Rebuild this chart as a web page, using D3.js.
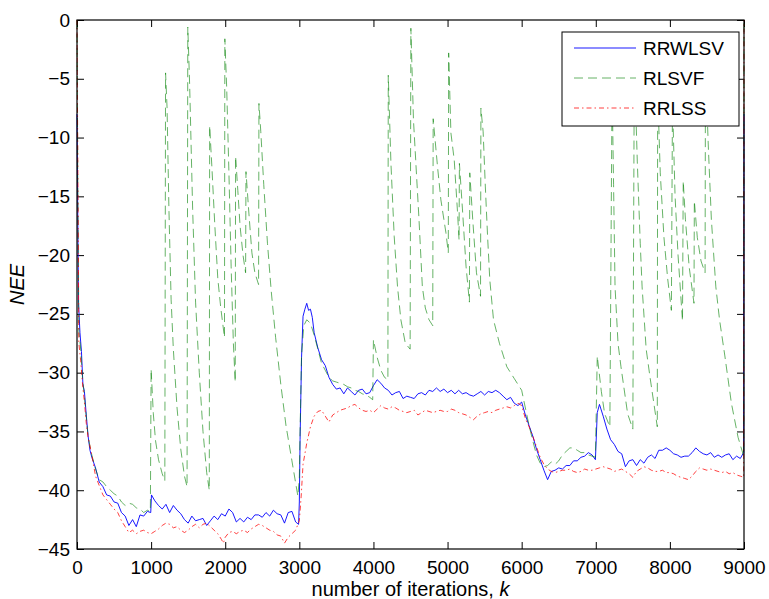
<!DOCTYPE html>
<html>
<head>
<meta charset="utf-8">
<script src="https://cdn.jsdelivr.net/npm/d3@7"></script>
<style>
  body { margin: 0; background: #fff; }
  svg text { font-family: "Liberation Sans", Arial, Helvetica, sans-serif; }
</style>
</head>
<body>
<div id="chart"></div>
<script>
// iteration k, NEE value
const rrwlsv = [[0,-8],[20,-24],[40,-26.6],[60,-28.2],[80,-31.0],[100,-31.6],[125,-33.6],[150,-35.4],[175,-36.6],[200,-37.2],[250,-38.1],[300,-39.3],[350,-39.7],[400,-40.4],[450,-40.5],[500,-41.0],[550,-41.1],[600,-41.9],[650,-42.2],[700,-43.0],[750,-42.5],[800,-43.1],[850,-42.1],[900,-42.2],[950,-41.8],[995,-41.9],[1005,-40.4],[1050,-40.9],[1100,-41.3],[1150,-41.6],[1200,-41.2],[1250,-41.9],[1300,-41.3],[1350,-41.7],[1400,-42.0],[1450,-42.5],[1500,-42.8],[1550,-42.2],[1600,-42.6],[1650,-42.5],[1700,-42.4],[1750,-43.0],[1800,-42.6],[1850,-42.2],[1900,-42.5],[1950,-42.0],[2000,-42.2],[2050,-41.6],[2100,-41.9],[2150,-42.7],[2200,-42.4],[2250,-42.7],[2300,-42.3],[2350,-42.5],[2400,-42.1],[2450,-42.1],[2500,-42.3],[2550,-41.9],[2600,-42.2],[2650,-41.7],[2700,-42.0],[2750,-42.1],[2800,-42.8],[2850,-41.9],[2900,-41.8],[2950,-42.7],[2990,-42.9],[3000,-41.0],[3010,-35.7],[3030,-28.7],[3050,-25.2],[3075,-24.6],[3100,-24.1],[3125,-24.7],[3150,-24.6],[3175,-25.3],[3200,-26.6],[3250,-27.9],[3300,-28.9],[3350,-29.4],[3400,-30.4],[3450,-31.0],[3500,-31.4],[3550,-31.3],[3600,-31.8],[3650,-31.3],[3700,-31.6],[3750,-31.9],[3800,-31.5],[3850,-31.4],[3900,-31.8],[3950,-31.7],[4000,-31.1],[4050,-30.6],[4100,-30.9],[4150,-31.3],[4200,-31.5],[4250,-31.9],[4300,-31.7],[4350,-31.6],[4400,-32.2],[4450,-32.0],[4500,-32.1],[4550,-32.2],[4600,-31.8],[4650,-31.7],[4700,-31.9],[4750,-31.5],[4800,-31.6],[4850,-31.3],[4900,-31.6],[4950,-31.4],[5000,-31.7],[5050,-31.5],[5100,-31.8],[5150,-31.5],[5200,-31.8],[5250,-31.7],[5300,-31.9],[5350,-32.0],[5400,-31.8],[5450,-31.6],[5500,-31.9],[5550,-31.6],[5600,-31.7],[5650,-31.5],[5700,-31.7],[5750,-32.0],[5800,-32.3],[5850,-32.1],[5900,-32.6],[5950,-32.8],[6000,-32.5],[6050,-33.6],[6100,-34.5],[6150,-35.4],[6200,-36.5],[6250,-37.4],[6300,-38.3],[6350,-39.1],[6400,-38.4],[6450,-38.3],[6500,-38.1],[6550,-38.2],[6600,-37.9],[6650,-37.9],[6700,-37.5],[6750,-37.5],[6800,-37.2],[6850,-37.1],[6900,-36.8],[6950,-37.0],[6995,-37.4],[7020,-33.4],[7050,-32.7],[7100,-33.7],[7150,-34.8],[7200,-35.7],[7250,-36.1],[7300,-36.7],[7350,-36.9],[7400,-38.0],[7450,-37.5],[7500,-37.4],[7550,-37.9],[7600,-37.4],[7650,-37.7],[7700,-37.2],[7750,-37.0],[7800,-37.3],[7850,-36.6],[7900,-36.6],[7950,-36.4],[8000,-36.6],[8050,-36.9],[8100,-37.0],[8150,-37.2],[8200,-37.1],[8250,-37.1],[8300,-36.8],[8350,-36.4],[8400,-36.7],[8450,-36.9],[8500,-37.0],[8550,-36.8],[8600,-37.2],[8650,-37.0],[8700,-37.2],[8750,-37.0],[8800,-36.9],[8850,-37.4],[8900,-37.1],[8950,-37.3],[8995,-36.8],[9000,-8]];

const rlsvf = [[0,0],[10,-13],[25,-26.5],[50,-28],[75,-30.5],[100,-32],[150,-35.5],[200,-37],[250,-38.2],[300,-39.1],[350,-39.3],[400,-39.7],[450,-40.0],[500,-40.3],[550,-40.5],[600,-41.0],[650,-41.3],[700,-41.1],[750,-41.2],[800,-41.5],[850,-41.6],[900,-41.9],[950,-41.7],[990,-41.8],
  [1000,-29.7],[1030,-33.5],[1060,-35.8],[1100,-37.4],[1150,-38.6],[1185,-39.2],
  [1195,-4.5],[1215,-7.4],[1240,-16],[1270,-23.8],[1300,-28],[1350,-33],[1400,-36.5],[1450,-38.8],[1485,-39.7],
  [1495,-0.6],[1520,-5.5],[1560,-16],[1600,-24],[1650,-30],[1700,-35],[1750,-38.5],[1785,-40.0],
  [1790,-9.0],[1820,-12.5],[1860,-17.5],[1900,-22.0],[1940,-24.5],[1990,-27],
  [1995,-1.6],[2020,-5.8],[2050,-13],[2080,-21],[2110,-27.5],[2135,-30.8],
  [2140,-11.6],[2170,-14.5],[2200,-17.5],[2240,-20],[2275,-21.5],
  [2280,-12.9],[2320,-16.5],[2360,-19.8],[2400,-21.5],[2450,-22.5],
  [2455,-7.1],[2480,-9.5],[2520,-14],[2570,-19],[2620,-23],[2680,-27],[2750,-31],[2820,-34.5],[2900,-37.5],[2980,-40.5],
  [3000,-39],[3010,-35],[3030,-28.5],[3060,-26],[3100,-25.5],[3150,-25.8],[3200,-26.8],[3250,-28.0],[3300,-29.2],[3350,-29.8],[3400,-30.4],[3450,-30.7],[3500,-30.8],[3550,-30.9],[3600,-31.0],[3650,-31.2],[3700,-31.3],[3750,-31.5],[3800,-31.6],[3850,-31.8],[3900,-31.9],[3950,-32.1],[3990,-32.3],
  [4000,-27.2],[4050,-28.7],[4100,-29.8],[4150,-30.4],[4195,-30.6],
  [4200,-4.7],[4236,-12.2],[4280,-18.4],[4325,-22.7],[4370,-25.5],[4430,-27.5],[4495,-28.0],
  [4505,-0.7],[4540,-8.5],[4570,-11.9],[4615,-17],[4660,-22.7],[4700,-24.5],[4750,-25.5],[4800,-26],
  [4806,-8.4],[4865,-12.5],[4910,-15.3],[4978,-18.1],[5010,-19.8],
  [5015,-2.8],[5045,-9.6],[5090,-11.9],[5135,-16.4],[5155,-18.7],
  [5160,-12.2],[5200,-16],[5250,-21],[5295,-24],
  [5300,-13.0],[5340,-17],[5390,-21.5],[5445,-23.5],
  [5450,-7.5],[5480,-9.5],[5510,-14.2],[5540,-18.4],[5570,-22.1],[5620,-25.5],[5700,-27.5],[5800,-29.5],[5900,-30.5],[6000,-31.5],[6050,-33],[6100,-34.5],[6150,-35.8],[6200,-37],[6250,-37.7],[6300,-38.0],[6350,-37.9],[6400,-37.6],[6450,-37.8],[6500,-37.5],[6550,-37.0],[6600,-36.7],[6650,-36.4],[6700,-36.4],[6750,-36.6],[6800,-36.8],[6850,-36.8],[6900,-37.0],[6950,-37.1],[6995,-37.2],
  [7020,-28.6],[7075,-31.6],[7120,-33.5],[7190,-34.6],
  [7220,-5.5],[7240,-14],[7260,-22.7],[7300,-27.5],[7340,-29.5],[7430,-33.5],[7500,-34.8],
  [7520,-3.5],[7560,-12],[7600,-19],[7625,-22.7],[7680,-28],[7730,-30.3],[7830,-34.6],
  [7835,-6],[7870,-13],[7920,-18.5],[7970,-22],[8020,-24.7],
  [8035,-7],[8070,-15],[8110,-20],[8170,-25.6],
  [8180,-13.7],[8210,-17],[8260,-21],[8325,-24.1],
  [8330,-15.4],[8370,-18.5],[8420,-20.5],[8475,-21.5],
  [8480,-4],[8520,-11],[8560,-17],[8620,-22.7],[8670,-25.5],[8740,-28.5],[8830,-32.6],[8920,-35.5],[8995,-37.1],[9000,0]];

const rrlss = [[0,0],[25,-27.5],[50,-29],[75,-31],[100,-32.5],[125,-34.3],[150,-35.5],[200,-37.0],[250,-38.8],[300,-39.6],[350,-40.4],[400,-40.8],[450,-41.2],[500,-41.6],[550,-41.9],[600,-42.6],[650,-43.1],[700,-43.6],[750,-43.4],[800,-43.7],[850,-43.5],[900,-43.4],[950,-43.6],[1000,-43.7],[1050,-43.5],[1100,-43.3],[1150,-43.0],[1200,-42.8],[1250,-42.9],[1300,-43.2],[1350,-43.1],[1400,-43.4],[1450,-43.6],[1500,-43.4],[1550,-43.1],[1600,-42.9],[1650,-43.2],[1700,-42.9],[1750,-42.8],[1800,-43.1],[1850,-43.4],[1900,-43.7],[1950,-44.2],[1975,-44.5],[2000,-44.0],[2050,-43.6],[2100,-43.5],[2150,-43.7],[2200,-43.5],[2250,-43.4],[2300,-43.6],[2350,-43.3],[2400,-43.1],[2450,-42.9],[2500,-43.0],[2550,-43.2],[2600,-43.4],[2650,-43.5],[2700,-43.8],[2750,-43.9],[2800,-44.5],[2850,-44.0],[2900,-43.7],[2950,-43.4],[3000,-42.6],[3025,-40.5],[3050,-37.8],[3100,-36.0],[3150,-34.6],[3200,-33.7],[3250,-33.3],[3300,-33.2],[3350,-33.7],[3400,-34.2],[3450,-33.6],[3500,-33.4],[3550,-33.2],[3600,-33.1],[3650,-33.0],[3700,-32.8],[3750,-32.7],[3800,-33.0],[3850,-33.2],[3900,-33.3],[3950,-33.2],[4000,-33.4],[4050,-33.1],[4100,-32.8],[4150,-33.0],[4200,-33.1],[4250,-32.9],[4300,-33.0],[4350,-33.2],[4400,-33.3],[4450,-33.4],[4500,-33.3],[4550,-33.2],[4600,-33.6],[4650,-33.4],[4700,-33.2],[4750,-33.3],[4800,-33.4],[4850,-33.3],[4900,-33.2],[4950,-33.3],[5000,-33.3],[5050,-33.1],[5100,-33.2],[5150,-33.4],[5200,-33.5],[5250,-33.6],[5300,-33.8],[5350,-34.0],[5400,-33.7],[5450,-33.5],[5500,-33.4],[5550,-33.3],[5600,-33.4],[5650,-33.2],[5700,-33.1],[5750,-33.0],[5800,-32.9],[5850,-33.0],[5900,-32.8],[5950,-32.6],[6000,-32.8],[6050,-33.9],[6100,-34.6],[6150,-35.4],[6200,-36.3],[6250,-37.2],[6300,-37.8],[6350,-38.2],[6400,-38.4],[6450,-38.5],[6500,-38.4],[6550,-38.3],[6600,-38.3],[6650,-38.2],[6700,-38.4],[6750,-38.5],[6800,-38.4],[6850,-38.2],[6900,-38.3],[6950,-38.3],[7000,-38.2],[7050,-38.1],[7100,-38.0],[7150,-38.1],[7200,-38.2],[7250,-38.4],[7300,-38.3],[7350,-38.2],[7400,-38.4],[7450,-38.6],[7500,-38.9],[7550,-38.4],[7600,-38.2],[7650,-38.0],[7700,-38.1],[7750,-38.3],[7800,-38.4],[7850,-38.4],[7900,-38.3],[7950,-38.5],[8000,-38.5],[8050,-38.6],[8100,-38.8],[8150,-38.9],[8200,-39.0],[8250,-39.1],[8300,-38.8],[8350,-38.4],[8400,-38.1],[8450,-38.2],[8500,-38.3],[8550,-38.2],[8600,-38.3],[8650,-38.4],[8700,-38.5],[8750,-38.4],[8800,-38.6],[8850,-38.5],[8900,-38.7],[8950,-38.8],[8995,-38.9],[9000,0]];

const seriesNames = ["RRWLSV", "RLSVF", "RRLSS"];
const xTicks = [0, 1000, 2000, 3000, 4000, 5000, 6000, 7000, 8000, 9000];
const yTicks = [-45, -40, -35, -30, -25, -20, -15, -10, -5, 0];

const width = 769, height = 599;
const margin = { top: 20, right: 25, bottom: 50, left: 77 };
const w = width - margin.left - margin.right;
const h = height - margin.top - margin.bottom;

const styles = [
  { color: "#0000ff", dash: null, opacity: 0.9 },
  { color: "#008000", dash: "9,5", opacity: 0.6 },
  { color: "#ff0000", dash: "5,3,1.5,3", opacity: 0.75 }
];

const svg = d3.select("#chart").append("svg")
  .attr("width", width)
  .attr("height", height);

const g = svg.append("g")
  .attr("transform", "translate(" + margin.left + "," + margin.top + ")");

const x = d3.scaleLinear().domain([0, 9000]).range([0, w]);
const y = d3.scaleLinear().domain([-45, 0]).range([h, 0]);

// axes, ticks pointing inward like matlab
const fontSize = 19;
g.append("g").attr("transform", "translate(0," + h + ")")
  .call(d3.axisBottom(x).tickValues(xTicks).tickFormat(d3.format("d"))
    .tickSizeInner(-7).tickSizeOuter(0).tickPadding(12));
g.append("g")
  .call(d3.axisLeft(y).tickValues(yTicks).tickFormat(d3.format("d"))
    .tickSizeInner(-7).tickSizeOuter(0).tickPadding(7));
g.append("g")
  .call(d3.axisTop(x).tickValues(xTicks).tickSizeInner(-7).tickSizeOuter(0).tickFormat(""));
g.append("g").attr("transform", "translate(" + w + ",0)")
  .call(d3.axisRight(y).tickValues(yTicks).tickSizeInner(-7).tickSizeOuter(0).tickFormat(""));

g.selectAll(".domain").remove();
g.selectAll(".tick line").attr("stroke", "#000");
g.selectAll(".tick text").attr("font-size", fontSize).attr("fill", "#000");

// lines
const line = d3.line().x(d => x(d[0])).y(d => y(d[1]));
g.append("clipPath").attr("id", "clip")
  .append("rect").attr("x", -1).attr("y", -1).attr("width", w + 2).attr("height", h + 2);

[rrwlsv, rlsvf, rrlss].forEach((data, i) => {
  g.append("path")
    .datum(data)
    .attr("clip-path", "url(#clip)")
    .attr("fill", "none")
    .attr("stroke", styles[i].color)
    .attr("stroke-opacity", styles[i].opacity)
    .attr("stroke-width", 1)
    .attr("stroke-dasharray", styles[i].dash)
    .attr("d", line);
});

// frame
g.append("rect")
  .attr("width", w).attr("height", h)
  .attr("fill", "none").attr("stroke", "#000").attr("stroke-width", 1.2);

// legend
const lg = g.append("g").attr("transform", "translate(" + (562 - margin.left) + "," + (32 - margin.top) + ")");
lg.append("rect").attr("width", 177).attr("height", 94)
  .attr("fill", "#fff").attr("stroke", "#000").attr("stroke-width", 1);
seriesNames.forEach((name, i) => {
  const yy = 16 + i * 30;
  lg.append("line").attr("x1", 12).attr("x2", 74).attr("y1", yy).attr("y2", yy)
    .attr("stroke", styles[i].color).attr("stroke-opacity", styles[i].opacity)
    .attr("stroke-width", 1)
    .attr("stroke-dasharray", styles[i].dash);
  lg.append("text").attr("x", 81).attr("y", yy).attr("dy", "0.35em")
    .attr("font-size", fontSize).text(name);
});

// axis labels
svg.append("text")
  .attr("x", margin.left + w / 2).attr("y", 596)
  .attr("text-anchor", "middle").attr("font-size", 20)
  .html('number of iterations, <tspan font-style="italic">k</tspan>');

svg.append("text")
  .attr("transform", "translate(24," + (margin.top + h / 2) + ") rotate(-90)")
  .attr("text-anchor", "middle").attr("font-size", 20).attr("font-style", "italic")
  .text("NEE");
</script>
</body>
</html>
